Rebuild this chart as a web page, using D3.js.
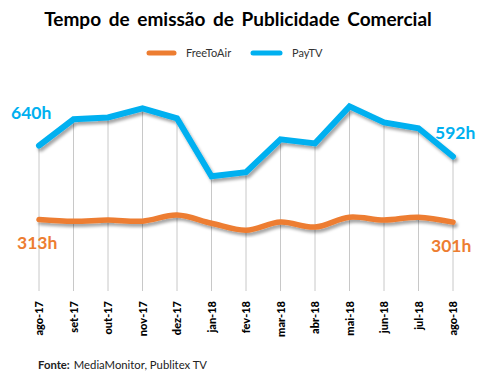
<!DOCTYPE html>
<html><head><meta charset="utf-8">
<script src="https://cdn.jsdelivr.net/npm/d3@7"></script>
<style>
html,body{margin:0;padding:0;background:#fff;}
svg{display:block;font-family:Lato,"Open Sans",sans-serif;}
</style></head>
<body>
<svg id="chart" width="489" height="378"></svg>
<script>
const months = ["ago-17","set-17","out-17","nov-17","dez-17","jan-18","fev-18","mar-18","abr-18","mai-18","jun-18","jul-18","ago-18"];
const payTV = [640,757,765,805,761,504,522,668,650,814,743,717,592];
const freeToAir = [313,305,310,305,332,296,265,301,279,323,310,323,301];
const seriesNames = ["FreeToAir","PayTV"];
const colors = {FreeToAir:"#ED7D31", PayTV:"#00B0F0"};
const title = "Tempo de emissão de Publicidade Comercial";

const svg = d3.select("#chart");
const defs = svg.append("defs");
const f = defs.append("filter").attr("id","shadow").attr("x","-10%").attr("y","-30%").attr("width","130%").attr("height","180%");
f.append("feDropShadow").attr("dx",2).attr("dy",3).attr("stdDeviation",1.5).attr("flood-color","#000").attr("flood-opacity",0.35);

const x = d3.scalePoint().domain(months).range([39,453]);
const y = d3.scaleLinear().domain([0,900]).range([290,87]);

// title
svg.append("text").attr("x",238).attr("y",26).attr("text-anchor","middle")
  .attr("font-size",19).attr("font-weight","bold").attr("fill","#000").attr("word-spacing",3).text(title);

// legend
const leg = [{n:"FreeToAir",x1:147,x2:176,tx:186},{n:"PayTV",x1:251,x2:282,tx:292}];
leg.forEach(l=>{
  svg.append("line").attr("x1",l.x1+2).attr("x2",l.x2-2).attr("y1",53).attr("y2",53)
    .attr("stroke",colors[l.n]).attr("stroke-width",5).attr("stroke-linecap","round");
  svg.append("text").attr("x",l.tx).attr("y",57).attr("font-size",11).attr("fill","#333").text(l.n);
});

// drop lines
svg.append("g").selectAll("line").data(months).join("line")
  .attr("x1",d=>x(d)).attr("x2",d=>x(d))
  .attr("y1",(d,i)=>y(payTV[i])).attr("y2",y(0)+1)
  .attr("stroke","#c8c8c8").attr("stroke-width",1);

// lines
const linePay = d3.line().x((d,i)=>x(months[i])).y(d=>y(d));
const lineFta = d3.line().x((d,i)=>x(months[i])).y(d=>y(d)).curve(d3.curveCatmullRom.alpha(0.5));
svg.append("path").attr("d",lineFta(freeToAir)).attr("fill","none").attr("stroke",colors.FreeToAir)
  .attr("stroke-width",5.5).attr("stroke-linecap","round").attr("stroke-linejoin","round").attr("filter","url(#shadow)");
svg.append("path").attr("d",linePay(payTV)).attr("fill","none").attr("stroke",colors.PayTV)
  .attr("stroke-width",6).attr("stroke-linecap","round").attr("stroke-linejoin","miter").attr("filter","url(#shadow)");

// value labels
const n = months.length-1;
const lab = [
  {t:payTV[0]+"h",c:colors.PayTV,x:11,y:119},
  {t:freeToAir[0]+"h",c:colors.FreeToAir,x:17,y:249},
  {t:payTV[n]+"h",c:colors.PayTV,x:435,y:139},
  {t:freeToAir[n]+"h",c:colors.FreeToAir,x:431,y:252}
];
lab.forEach(l=>svg.append("text").attr("x",l.x).attr("y",l.y).attr("font-size",17.5)
  .attr("font-weight","bold").attr("fill",l.c).text(l.t));

// x axis labels
const xAxis = d3.axisBottom(x).tickSize(0).tickPadding(0);
const gx = svg.append("g").attr("transform",`translate(0,${y(0)})`).call(xAxis);
gx.select(".domain").remove();
gx.selectAll("text").attr("transform","rotate(-90)").attr("text-anchor","end")
  .attr("x",-11).attr("y",0).attr("dy","0.35em").attr("dx",0)
  .attr("font-size",11).attr("font-weight","900").attr("fill","#000").attr("font-family","Lato,sans-serif");

// source
const src = svg.append("text").attr("x",38).attr("y",369).attr("font-size",11.3).attr("fill","#222");
src.append("tspan").attr("font-weight","bold").text("Fonte:");
src.append("tspan").attr("dx",4).text("MediaMonitor, Publitex TV");
</script>
</body></html>
